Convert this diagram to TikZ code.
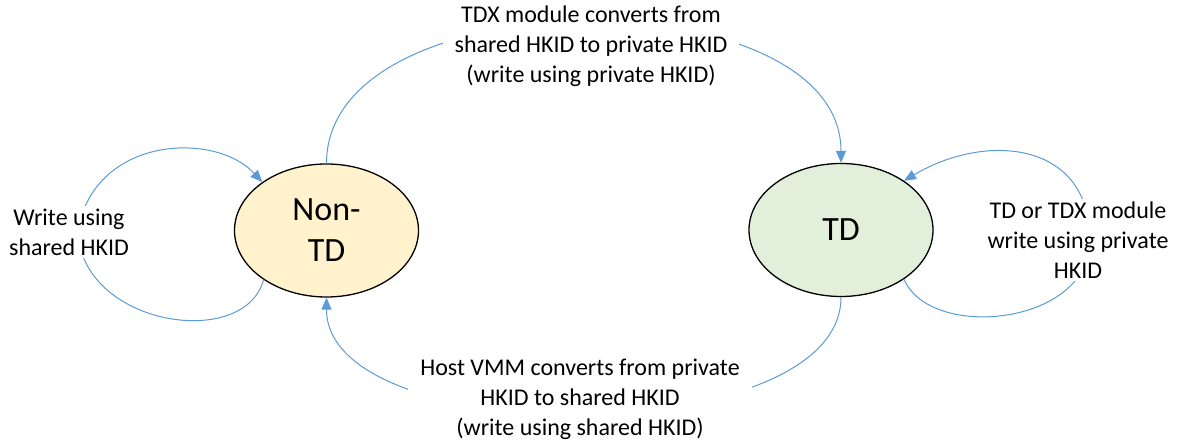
\documentclass[tikz,border=0pt]{standalone}
\usepackage{fontspec}
\setmainfont{Carlito}
\usepackage{tikz}
\usetikzlibrary{arrows.meta,positioning,shapes.geometric}
\usepackage{xcolor}
\definecolor{stateyellow}{HTML}{FFF2CC}
\definecolor{stategreen}{HTML}{E2EFDA}
\definecolor{linkblue}{HTML}{5B9BD5}
\tikzset{
  statenode/.style={
    ellipse,
    draw=black,
    line width=1.3pt,
    minimum width=184pt,
    minimum height=133pt,
    inner sep=0pt,
    align=center,
    font=\fontsize{34}{41}\selectfont
  },
  labelnode/.style={
    fill=white,
    align=center,
    inner xsep=12pt,
    inner ysep=3pt,
    font=\fontsize{24}{30}\selectfont
  },
  link/.style={
    -{Triangle[length=12pt,width=10pt]},
    draw=linkblue,
    line width=1pt
  }
}

\begin{document}
\begin{tikzpicture}[x=1pt,y=1pt]
\useasboundingbox (0,0) rectangle (1186,441);
\node[statenode, fill=stateyellow] (nontd) at (326.5,210.5) {Non-\\TD};
\node[statenode, fill=stategreen] (td) at (841,211) {TD};
% conversions between the two states
\draw[link] (nontd.north) .. controls (326.5,465) and (841,465) .. (td.north);
\draw[link] (td.south) .. controls (841,-10) and (326.5,-10) .. (nontd.south);
% writes that keep the state
\draw[link] (nontd.218) .. controls (245,90) and (80,115) .. (78,211)
  .. controls (95,305) and (215,310) .. (nontd.143);
\draw[link] (td.322) .. controls (930,100) and (1090,115) .. (1090,201)
  .. controls (1090,300) and (986,309) .. (td.38);
% labels
\node[labelnode] (tdxconv) at (591,395) {TDX module converts from\\shared HKID to private HKID\\(write using private HKID)};
\node[labelnode] (vmmconv) at (580,42) {Host VMM converts from private\\HKID to shared HKID\\(write using shared HKID)};
\node[labelnode] (sharedw) at (69,209) {Write using\\shared HKID};
\node[labelnode] (privatew) at (1078,201) {TD or TDX module\\write using private\\HKID};
\end{tikzpicture}
\end{document}
